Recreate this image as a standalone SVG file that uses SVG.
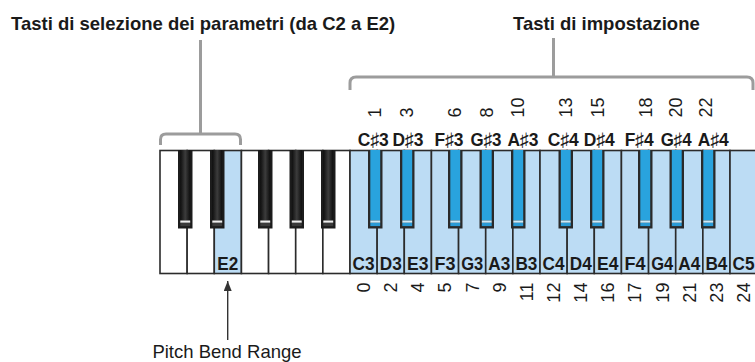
<svg xmlns="http://www.w3.org/2000/svg" xmlns:xlink="http://www.w3.org/1999/xlink" width="755" height="362" viewBox="0 0 755 362">
<style>
.title{font-family:"Liberation Sans",Arial,sans-serif;font-weight:bold;font-size:18.5px;fill:#1a1a1a}
.cap{font-family:"Liberation Sans",Arial,sans-serif;font-size:18.5px;fill:#1a1a1a}
.kl{font-family:"Liberation Sans","DejaVu Sans",Arial,sans-serif;font-weight:bold;font-size:18.5px;fill:#1a1a1a;text-anchor:middle}
.num{font-family:"Liberation Sans",Arial,sans-serif;font-size:18px;fill:#1a1a1a}
.wk{fill:#ffffff;stroke:#2b2b2b;stroke-width:1.6}
.wkb{fill:#bcdcf4;stroke:#2b2b2b;stroke-width:1.6}
.br{fill:none;stroke:#9c9c9c;stroke-width:3}
</style>
<defs>
<linearGradient id="gBlack" x1="0" y1="0" x2="1" y2="0">
<stop offset="0" stop-color="#0e0e0e"/>
<stop offset="0.5" stop-color="#3c3c3c"/>
<stop offset="1" stop-color="#0e0e0e"/>
</linearGradient>
<g id="bkBlack">
<rect x="0" y="150" width="14.5" height="78.5" fill="#1c1c1c"/>
<rect x="2.3" y="150" width="9.9" height="70.5" fill="url(#gBlack)"/>
<rect x="2.3" y="220.5" width="9.9" height="2.3" fill="#eeeeee"/>
<rect x="2.3" y="222.8" width="9.9" height="3.3" fill="#3a3a3a"/>
</g>
<g id="bkBlue">
<rect x="0" y="150" width="14.5" height="78.5" fill="#2a2a2a"/>
<rect x="2.3" y="150" width="9.9" height="70.5" fill="#29a3de"/>
<rect x="2.3" y="220.5" width="9.9" height="2.3" fill="#cdeaf8"/>
<rect x="2.3" y="222.8" width="9.9" height="3.3" fill="#2a9ad5"/>
</g>
<marker id="ah" viewBox="0 0 10 8" refX="10" refY="4" markerWidth="10" markerHeight="8" markerUnits="userSpaceOnUse" orient="auto">
<path d="M0,0 L10,4 L0,8 Z" fill="#333333"/>
</marker>
</defs>

<g id="titles">
<text class="title" x="11" y="29.7">Tasti di selezione dei parametri (da C2 a E2)</text>
<text class="title" x="513" y="29.5">Tasti di impostazione</text>
</g>

<g id="keyboard">
<g id="white-keys">
<rect class="wk" x="160" y="150.5" width="27.14" height="123"/>
<rect class="wk" x="187.14" y="150.5" width="27.14" height="123"/>
<rect class="wkb" x="214.29" y="150.5" width="27.14" height="123"/>
<rect class="wk" x="241.43" y="150.5" width="27.14" height="123"/>
<rect class="wk" x="268.57" y="150.5" width="27.14" height="123"/>
<rect class="wk" x="295.71" y="150.5" width="27.14" height="123"/>
<rect class="wk" x="322.86" y="150.5" width="27.14" height="123"/>
<rect class="wkb" x="350" y="150.5" width="27.14" height="123"/>
<rect class="wkb" x="377.14" y="150.5" width="27.14" height="123"/>
<rect class="wkb" x="404.29" y="150.5" width="27.14" height="123"/>
<rect class="wkb" x="431.43" y="150.5" width="27.14" height="123"/>
<rect class="wkb" x="458.57" y="150.5" width="27.14" height="123"/>
<rect class="wkb" x="485.71" y="150.5" width="27.14" height="123"/>
<rect class="wkb" x="512.86" y="150.5" width="27.14" height="123"/>
<rect class="wkb" x="540" y="150.5" width="27.14" height="123"/>
<rect class="wkb" x="567.14" y="150.5" width="27.14" height="123"/>
<rect class="wkb" x="594.29" y="150.5" width="27.14" height="123"/>
<rect class="wkb" x="621.43" y="150.5" width="27.14" height="123"/>
<rect class="wkb" x="648.57" y="150.5" width="27.14" height="123"/>
<rect class="wkb" x="675.71" y="150.5" width="27.14" height="123"/>
<rect class="wkb" x="702.86" y="150.5" width="27.14" height="123"/>
<rect class="wkb" x="730" y="150.5" width="27.14" height="123"/>
</g>
<g id="black-keys">
<use xlink:href="#bkBlack" x="178"/>
<use xlink:href="#bkBlack" x="210"/>
<use xlink:href="#bkBlack" x="258"/>
<use xlink:href="#bkBlack" x="289.5"/>
<use xlink:href="#bkBlack" x="321"/>
<use xlink:href="#bkBlue" x="368"/>
<use xlink:href="#bkBlue" x="400"/>
<use xlink:href="#bkBlue" x="448"/>
<use xlink:href="#bkBlue" x="479.5"/>
<use xlink:href="#bkBlue" x="511"/>
<use xlink:href="#bkBlue" x="558.5"/>
<use xlink:href="#bkBlue" x="590"/>
<use xlink:href="#bkBlue" x="638"/>
<use xlink:href="#bkBlue" x="669.5"/>
<use xlink:href="#bkBlue" x="701"/>
</g>
</g>

<g id="white-key-labels">
<text class="kl" x="227.86" y="269.5" textLength="21" lengthAdjust="spacingAndGlyphs">E2</text>
<text class="kl" x="363.57" y="269.5" textLength="22" lengthAdjust="spacingAndGlyphs">C3</text>
<text class="kl" x="390.71" y="269.5" textLength="22" lengthAdjust="spacingAndGlyphs">D3</text>
<text class="kl" x="417.86" y="269.5" textLength="21.5" lengthAdjust="spacingAndGlyphs">E3</text>
<text class="kl" x="445" y="269.5" textLength="21" lengthAdjust="spacingAndGlyphs">F3</text>
<text class="kl" x="472.14" y="269.5" textLength="22" lengthAdjust="spacingAndGlyphs">G3</text>
<text class="kl" x="499.29" y="269.5" textLength="22" lengthAdjust="spacingAndGlyphs">A3</text>
<text class="kl" x="526.43" y="269.5" textLength="22" lengthAdjust="spacingAndGlyphs">B3</text>
<text class="kl" x="553.57" y="269.5" textLength="22" lengthAdjust="spacingAndGlyphs">C4</text>
<text class="kl" x="580.71" y="269.5" textLength="22" lengthAdjust="spacingAndGlyphs">D4</text>
<text class="kl" x="607.86" y="269.5" textLength="21.5" lengthAdjust="spacingAndGlyphs">E4</text>
<text class="kl" x="635" y="269.5" textLength="21" lengthAdjust="spacingAndGlyphs">F4</text>
<text class="kl" x="662.14" y="269.5" textLength="22" lengthAdjust="spacingAndGlyphs">G4</text>
<text class="kl" x="689.29" y="269.5" textLength="22" lengthAdjust="spacingAndGlyphs">A4</text>
<text class="kl" x="716.43" y="269.5" textLength="22" lengthAdjust="spacingAndGlyphs">B4</text>
<text class="kl" x="743.57" y="269.5" textLength="22" lengthAdjust="spacingAndGlyphs">C5</text>
</g>

<g id="black-key-labels">
<text class="kl" x="373.3" y="146" textLength="31" lengthAdjust="spacingAndGlyphs">C♯3</text>
<text class="kl" x="408" y="146" textLength="31" lengthAdjust="spacingAndGlyphs">D♯3</text>
<text class="kl" x="449" y="146" textLength="29" lengthAdjust="spacingAndGlyphs">F♯3</text>
<text class="kl" x="486" y="146" textLength="31" lengthAdjust="spacingAndGlyphs">G♯3</text>
<text class="kl" x="523" y="146" textLength="31" lengthAdjust="spacingAndGlyphs">A♯3</text>
<text class="kl" x="563.3" y="146" textLength="31" lengthAdjust="spacingAndGlyphs">C♯4</text>
<text class="kl" x="599.3" y="146" textLength="31" lengthAdjust="spacingAndGlyphs">D♯4</text>
<text class="kl" x="639.2" y="146" textLength="29" lengthAdjust="spacingAndGlyphs">F♯4</text>
<text class="kl" x="676.2" y="146" textLength="31" lengthAdjust="spacingAndGlyphs">G♯4</text>
<text class="kl" x="713.3" y="146" textLength="31" lengthAdjust="spacingAndGlyphs">A♯4</text>
</g>

<g id="top-numbers">
<text class="num" transform="translate(381.4,117.5) rotate(-90)">1</text>
<text class="num" transform="translate(413.2,117.5) rotate(-90)">3</text>
<text class="num" transform="translate(461.4,117.5) rotate(-90)">6</text>
<text class="num" transform="translate(493,117.5) rotate(-90)">8</text>
<text class="num" transform="translate(524.4,117.5) rotate(-90)">10</text>
<text class="num" transform="translate(572,117.5) rotate(-90)">13</text>
<text class="num" transform="translate(603.6,117.5) rotate(-90)">15</text>
<text class="num" transform="translate(651.6,117.5) rotate(-90)">18</text>
<text class="num" transform="translate(682.2,117.5) rotate(-90)">20</text>
<text class="num" transform="translate(712.4,117.5) rotate(-90)">22</text>
</g>

<g id="bottom-numbers">
<text class="num" text-anchor="end" transform="translate(370,282.6) rotate(-90)">0</text>
<text class="num" text-anchor="end" transform="translate(397.1,282.6) rotate(-90)">2</text>
<text class="num" text-anchor="end" transform="translate(424.3,282.6) rotate(-90)">4</text>
<text class="num" text-anchor="end" transform="translate(451.4,282.6) rotate(-90)">5</text>
<text class="num" text-anchor="end" transform="translate(478.5,282.6) rotate(-90)">7</text>
<text class="num" text-anchor="end" transform="translate(505.7,282.6) rotate(-90)">9</text>
<text class="num" text-anchor="end" transform="translate(532.8,282.6) rotate(-90)">11</text>
<text class="num" text-anchor="end" transform="translate(560,282.6) rotate(-90)">12</text>
<text class="num" text-anchor="end" transform="translate(587.1,282.6) rotate(-90)">14</text>
<text class="num" text-anchor="end" transform="translate(614.3,282.6) rotate(-90)">16</text>
<text class="num" text-anchor="end" transform="translate(641.4,282.6) rotate(-90)">17</text>
<text class="num" text-anchor="end" transform="translate(668.5,282.6) rotate(-90)">19</text>
<text class="num" text-anchor="end" transform="translate(695.7,282.6) rotate(-90)">21</text>
<text class="num" text-anchor="end" transform="translate(722.8,282.6) rotate(-90)">23</text>
<text class="num" text-anchor="end" transform="translate(750,282.6) rotate(-90)">24</text>
</g>

<g id="connectors">
<path class="br" d="M160.5,145 V139.5 Q160.5,134 166,134 H235 Q240.5,134 240.5,139.5 V145"/>
<path class="br" d="M200.5,40 V134"/>
<path class="br" d="M350,90 V83 Q350,77 356,77 H747 Q753,77 753,83 V90"/>
<path class="br" d="M553.5,38 V77"/>
<line x1="227.7" y1="340" x2="227.7" y2="281" stroke="#333333" stroke-width="1.4" marker-end="url(#ah)"/>
</g>

<g id="pitch-bend-label">
<text class="cap" x="227" y="358.3" text-anchor="middle">Pitch Bend Range</text>
</g>
</svg>
